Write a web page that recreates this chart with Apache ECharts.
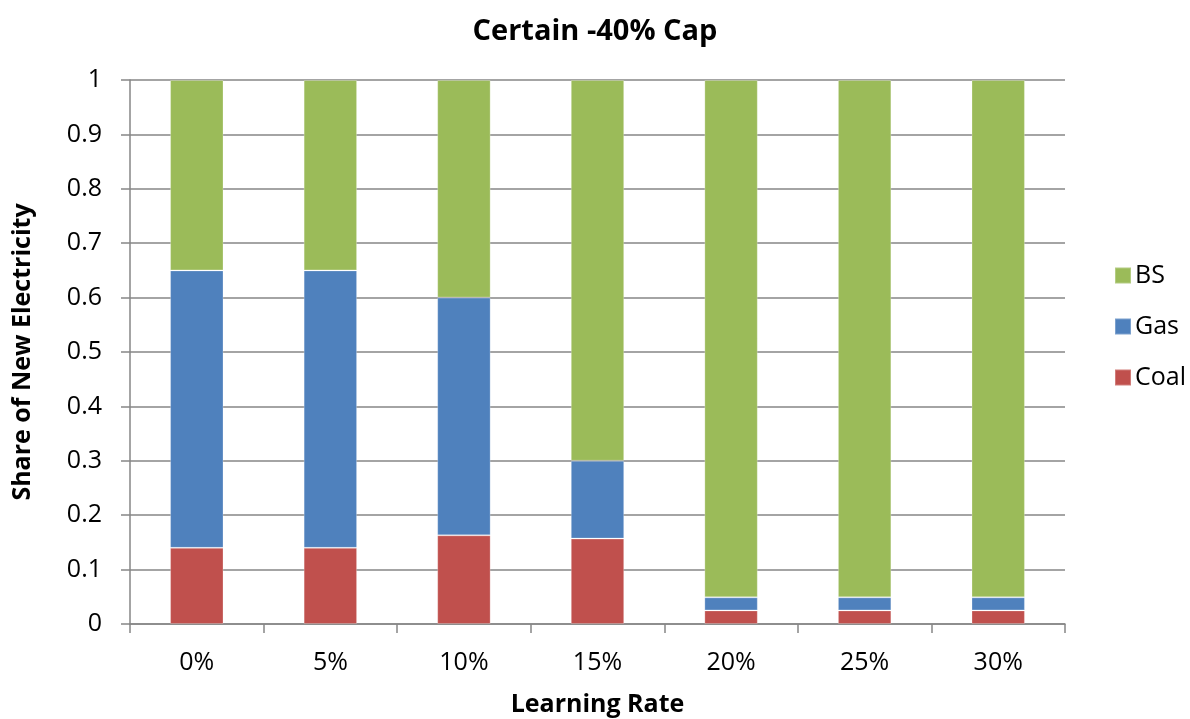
<!DOCTYPE html>
<html>
<head>
<meta charset="utf-8">
<script src="https://cdn.jsdelivr.net/npm/echarts@6/dist/echarts.min.js"></script>
<style>
  html, body { margin: 0; padding: 0; background: #fff; }
  #chart { width: 1190px; height: 719px; }
</style>
</head>
<body>
<div id="chart"></div>
<script>
// data
const categories = ['0%', '5%', '10%', '15%', '20%', '25%', '30%'];
const coal = [0.14, 0.14, 0.163, 0.157, 0.025, 0.025, 0.025];
const gas = [0.51, 0.51, 0.437, 0.143, 0.024, 0.024, 0.024];
const bs = [0.35, 0.35, 0.40, 0.70, 0.951, 0.951, 0.951];

const font = '"Open Sans", Lato, sans-serif';
const axisGray = '#868686';

const chart = echarts.init(document.getElementById('chart'));

function barSeries(name, data, color) {
  return {
    name: name,
    type: 'bar',
    stack: 'share',
    barWidth: '40%',
    data: data,
    itemStyle: {
      color: color,
      borderColor: 'rgba(255,255,255,0.25)',
      borderWidth: 1
    }
  };
}

const options = {
  animation: false,
  textStyle: { fontFamily: font },
  title: {
    text: 'Certain -40% Cap',
    left: 'center',
    top: 12,
    textStyle: { fontFamily: font, fontSize: 29, fontWeight: 'bold', color: '#000' }
  },
  legend: {
    orient: 'vertical',
    left: 1109,
    top: 258,
    itemWidth: 16,
    itemHeight: 16,
    itemGap: 26,
    icon: 'rect',
    data: ['BS', 'Gas', 'Coal'],
    textStyle: { fontFamily: font, fontSize: 25, lineHeight: 16, color: '#000', padding: [0, 0, 0, -1] }
  },
  grid: {
    left: 130,
    right: 125,
    top: 80,
    bottom: 95,
    outerBoundsMode: 'none'
  },
  xAxis: {
    type: 'category',
    data: categories,
    name: 'Learning Rate',
    nameLocation: 'middle',
    nameGap: 68,
    nameTextStyle: { fontFamily: font, fontSize: 25, fontWeight: 'bold', color: '#000' },
    axisLine: { lineStyle: { color: axisGray, width: 1.5 } },
    axisTick: { show: true, length: 9, lineStyle: { color: axisGray, width: 1.5 } },
    axisLabel: { fontFamily: font, fontSize: 25, color: '#000', margin: 26 }
  },
  yAxis: {
    type: 'value',
    min: 0,
    max: 1,
    interval: 0.1,
    name: 'Share of New Electricity',
    nameLocation: 'middle',
    nameGap: 95,
    nameTextStyle: { fontFamily: font, fontSize: 25, fontWeight: 'bold', color: '#000' },
    axisLine: { show: true, lineStyle: { color: axisGray, width: 1.5 } },
    axisTick: { show: true, length: 9, lineStyle: { color: axisGray, width: 1.5 } },
    axisLabel: {
      fontFamily: font,
      fontSize: 25,
      color: '#000',
      margin: 28,
      formatter: function (v) { return String(Math.round(v * 10) / 10); }
    },
    splitLine: { lineStyle: { color: axisGray, width: 1.5 } }
  },
  series: [
    barSeries('Coal', coal, '#c0504d'),
    barSeries('Gas', gas, '#4f81bd'),
    barSeries('BS', bs, '#9bbb59')
  ]
};

chart.setOption(options);
</script>
</body>
</html>
